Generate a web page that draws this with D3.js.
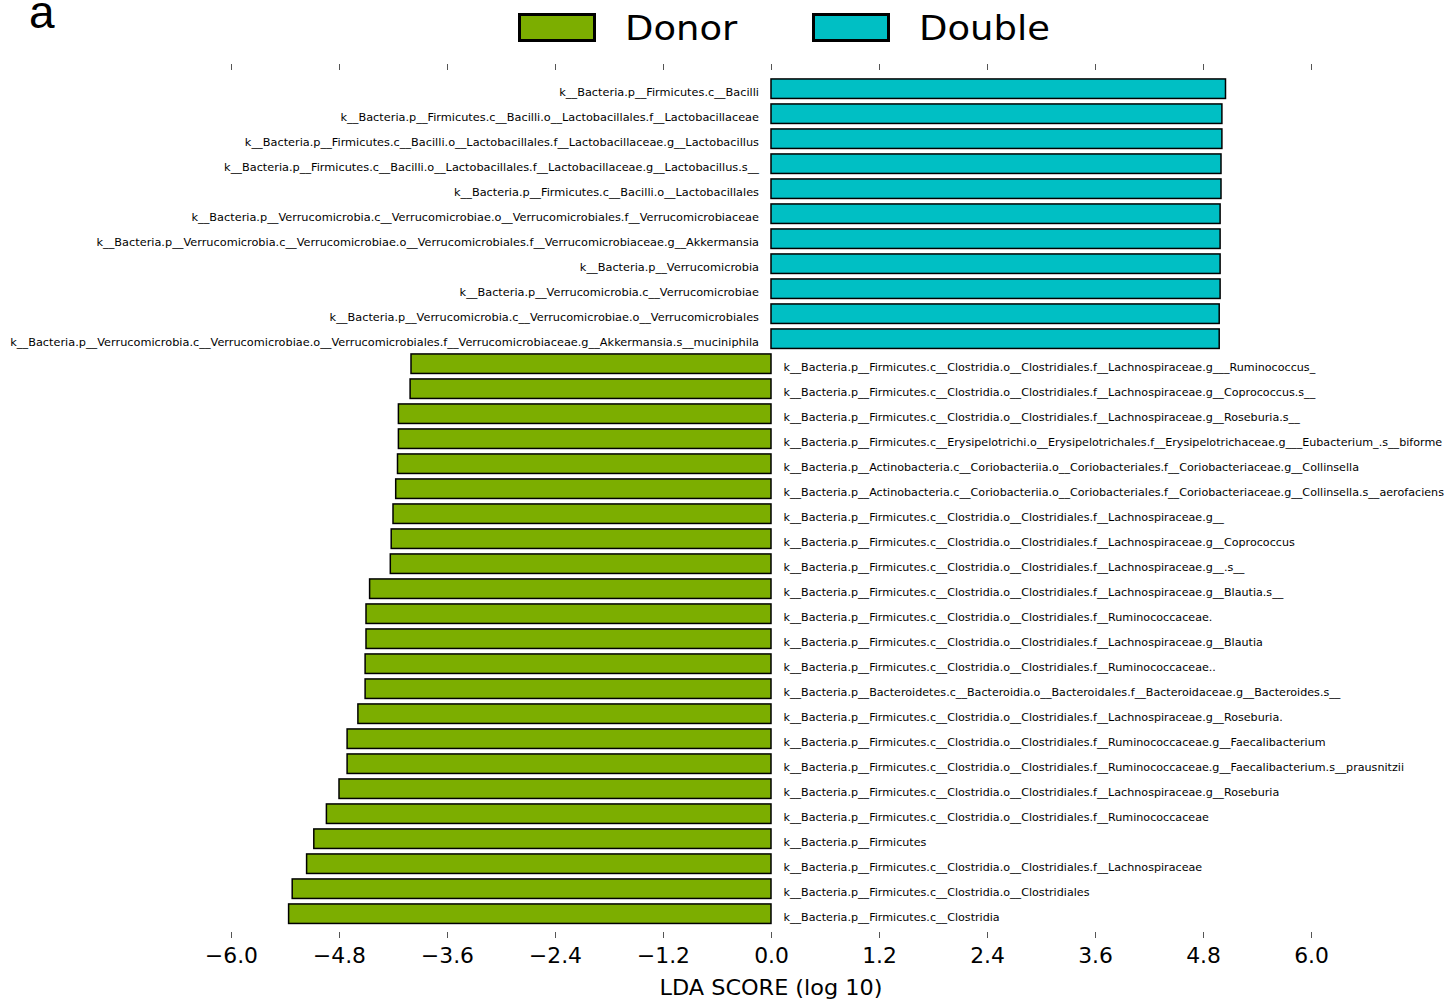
<!DOCTYPE html>
<html>
<head>
<meta charset="utf-8">
<script src="https://cdn.jsdelivr.net/npm/d3@7"></script>
<style>
  html, body { margin: 0; padding: 0; background: #fff; }
  svg { display: block; }
  text { font-family: "DejaVu Sans", sans-serif; fill: #000; }
</style>
</head>
<body>
<svg id="chart" width="1451" height="1000"></svg>
<script>
// LEfSe LDA scores: taxa enriched in the Double group (plotted right)
const doubleTaxa = [
  "k__Bacteria.p__Firmicutes.c__Bacilli",
  "k__Bacteria.p__Firmicutes.c__Bacilli.o__Lactobacillales.f__Lactobacillaceae",
  "k__Bacteria.p__Firmicutes.c__Bacilli.o__Lactobacillales.f__Lactobacillaceae.g__Lactobacillus",
  "k__Bacteria.p__Firmicutes.c__Bacilli.o__Lactobacillales.f__Lactobacillaceae.g__Lactobacillus.s__",
  "k__Bacteria.p__Firmicutes.c__Bacilli.o__Lactobacillales",
  "k__Bacteria.p__Verrucomicrobia.c__Verrucomicrobiae.o__Verrucomicrobiales.f__Verrucomicrobiaceae",
  "k__Bacteria.p__Verrucomicrobia.c__Verrucomicrobiae.o__Verrucomicrobiales.f__Verrucomicrobiaceae.g__Akkermansia",
  "k__Bacteria.p__Verrucomicrobia",
  "k__Bacteria.p__Verrucomicrobia.c__Verrucomicrobiae",
  "k__Bacteria.p__Verrucomicrobia.c__Verrucomicrobiae.o__Verrucomicrobiales",
  "k__Bacteria.p__Verrucomicrobia.c__Verrucomicrobiae.o__Verrucomicrobiales.f__Verrucomicrobiaceae.g__Akkermansia.s__muciniphila"
];
const doubleScores = [5.05, 5.01, 5.01, 5.00, 5.00, 4.99, 4.99, 4.99, 4.99, 4.98, 4.98];

// Taxa enriched in the Donor group (plotted left, negative scores)
const donorTaxa = [
  "k__Bacteria.p__Firmicutes.c__Clostridia.o__Clostridiales.f__Lachnospiraceae.g___Ruminococcus_",
  "k__Bacteria.p__Firmicutes.c__Clostridia.o__Clostridiales.f__Lachnospiraceae.g__Coprococcus.s__",
  "k__Bacteria.p__Firmicutes.c__Clostridia.o__Clostridiales.f__Lachnospiraceae.g__Roseburia.s__",
  "k__Bacteria.p__Firmicutes.c__Erysipelotrichi.o__Erysipelotrichales.f__Erysipelotrichaceae.g___Eubacterium_.s__biforme",
  "k__Bacteria.p__Actinobacteria.c__Coriobacteriia.o__Coriobacteriales.f__Coriobacteriaceae.g__Collinsella",
  "k__Bacteria.p__Actinobacteria.c__Coriobacteriia.o__Coriobacteriales.f__Coriobacteriaceae.g__Collinsella.s__aerofaciens",
  "k__Bacteria.p__Firmicutes.c__Clostridia.o__Clostridiales.f__Lachnospiraceae.g__",
  "k__Bacteria.p__Firmicutes.c__Clostridia.o__Clostridiales.f__Lachnospiraceae.g__Coprococcus",
  "k__Bacteria.p__Firmicutes.c__Clostridia.o__Clostridiales.f__Lachnospiraceae.g__.s__",
  "k__Bacteria.p__Firmicutes.c__Clostridia.o__Clostridiales.f__Lachnospiraceae.g__Blautia.s__",
  "k__Bacteria.p__Firmicutes.c__Clostridia.o__Clostridiales.f__Ruminococcaceae.",
  "k__Bacteria.p__Firmicutes.c__Clostridia.o__Clostridiales.f__Lachnospiraceae.g__Blautia",
  "k__Bacteria.p__Firmicutes.c__Clostridia.o__Clostridiales.f__Ruminococcaceae..",
  "k__Bacteria.p__Bacteroidetes.c__Bacteroidia.o__Bacteroidales.f__Bacteroidaceae.g__Bacteroides.s__",
  "k__Bacteria.p__Firmicutes.c__Clostridia.o__Clostridiales.f__Lachnospiraceae.g__Roseburia.",
  "k__Bacteria.p__Firmicutes.c__Clostridia.o__Clostridiales.f__Ruminococcaceae.g__Faecalibacterium",
  "k__Bacteria.p__Firmicutes.c__Clostridia.o__Clostridiales.f__Ruminococcaceae.g__Faecalibacterium.s__prausnitzii",
  "k__Bacteria.p__Firmicutes.c__Clostridia.o__Clostridiales.f__Lachnospiraceae.g__Roseburia",
  "k__Bacteria.p__Firmicutes.c__Clostridia.o__Clostridiales.f__Ruminococcaceae",
  "k__Bacteria.p__Firmicutes",
  "k__Bacteria.p__Firmicutes.c__Clostridia.o__Clostridiales.f__Lachnospiraceae",
  "k__Bacteria.p__Firmicutes.c__Clostridia.o__Clostridiales",
  "k__Bacteria.p__Firmicutes.c__Clostridia"
];
const donorScores = [-4.00, -4.01, -4.14, -4.14, -4.15, -4.17, -4.20, -4.22, -4.23, -4.46,
                     -4.50, -4.50, -4.51, -4.51, -4.59, -4.71, -4.71, -4.80, -4.94, -5.08,
                     -5.16, -5.32, -5.36];

const tickValues = [-6.0, -4.8, -3.6, -2.4, -1.2, 0.0, 1.2, 2.4, 3.6, 4.8, 6.0];
const groups = ["Donor", "Double"];
const groupColors = ["#7CAE00", "#00BFC4"];

// rows in drawing order, top to bottom
const rows = doubleTaxa.map((t, i) => ({ taxon: t, score: doubleScores[i], group: "Double" }))
  .concat(donorTaxa.map((t, i) => ({ taxon: t, score: donorScores[i], group: "Donor" })));

const svg = d3.select("#chart");
const color = d3.scaleOrdinal().domain(groups).range(groupColors);

const x = d3.scaleLinear().domain([-6, 6]).range([231, 1311]);
const y = d3.scaleBand()
  .domain(d3.range(rows.length))
  .range([76.2, 926.2])
  .paddingInner(0.22)
  .paddingOuter(0.11);

// bars
svg.append("g").selectAll("rect")
  .data(rows)
  .join("rect")
  .attr("x", d => Math.min(x(0), x(d.score)))
  .attr("y", (d, i) => y(i))
  .attr("width", d => Math.abs(x(d.score) - x(0)))
  .attr("height", y.bandwidth())
  .attr("fill", d => color(d.group))
  .attr("stroke", "#000")
  .attr("stroke-width", 1.5);

// taxon labels on the opposite side of zero
const labelStretch = { Double: 1.155, Donor: 1.138 };
svg.append("g").selectAll("text")
  .data(rows)
  .join("text")
  .attr("transform", (d, i) => {
    const tx = d.score > 0 ? x(0) - 12 : x(0) + 12.5;
    return `translate(${tx},${y(i) + y.bandwidth() / 2 + 7}) scale(${labelStretch[d.group]},1)`;
  })
  .attr("text-anchor", d => d.score > 0 ? "end" : "start")
  .style("font-size", "9.8px")
  .text(d => d.taxon);

// bottom axis with labels
const fmt = d3.format(".1f");
const axisB = svg.append("g")
  .attr("transform", "translate(0,932)")
  .call(d3.axisBottom(x).tickValues(tickValues).tickSize(6).tickPadding(10).tickFormat(fmt));
axisB.select(".domain").remove();
axisB.selectAll(".tick line").attr("stroke", "#555");
axisB.selectAll(".tick text")
  .attr("font-family", null)
  .style("font-size", "21px")
  .attr("transform", "scale(1.04,1)");

// top axis: ticks only
const axisT = svg.append("g")
  .attr("transform", "translate(0,70)")
  .call(d3.axisTop(x).tickValues(tickValues).tickSize(6).tickFormat(""));
axisT.select(".domain").remove();
axisT.selectAll(".tick line").attr("stroke", "#555");

// x axis title
svg.append("text")
  .attr("transform", `translate(${x(0)},995) scale(1.04,1)`)
  .attr("text-anchor", "middle")
  .style("font-size", "21.5px")
  .text("LDA SCORE (log 10)");

// legend
const legendX = [518, 812];
const legend = svg.append("g").selectAll("g")
  .data(groups)
  .join("g")
  .attr("transform", (d, i) => `translate(${legendX[i]},13)`);
legend.append("rect")
  .attr("x", 1.5).attr("y", 1.5)
  .attr("width", 75).attr("height", 26)
  .attr("fill", d => color(d))
  .attr("stroke", "#000")
  .attr("stroke-width", 3);
legend.append("text")
  .attr("transform", "translate(107,27) scale(1.12,1)")
  .style("font-size", "33px")
  .text(d => d);

// panel letter
svg.append("text")
  .attr("x", 29).attr("y", 28)
  .style("font-family", "'Liberation Sans', Arial, sans-serif")
  .style("font-size", "46px")
  .text("a");
</script>
</body>
</html>
